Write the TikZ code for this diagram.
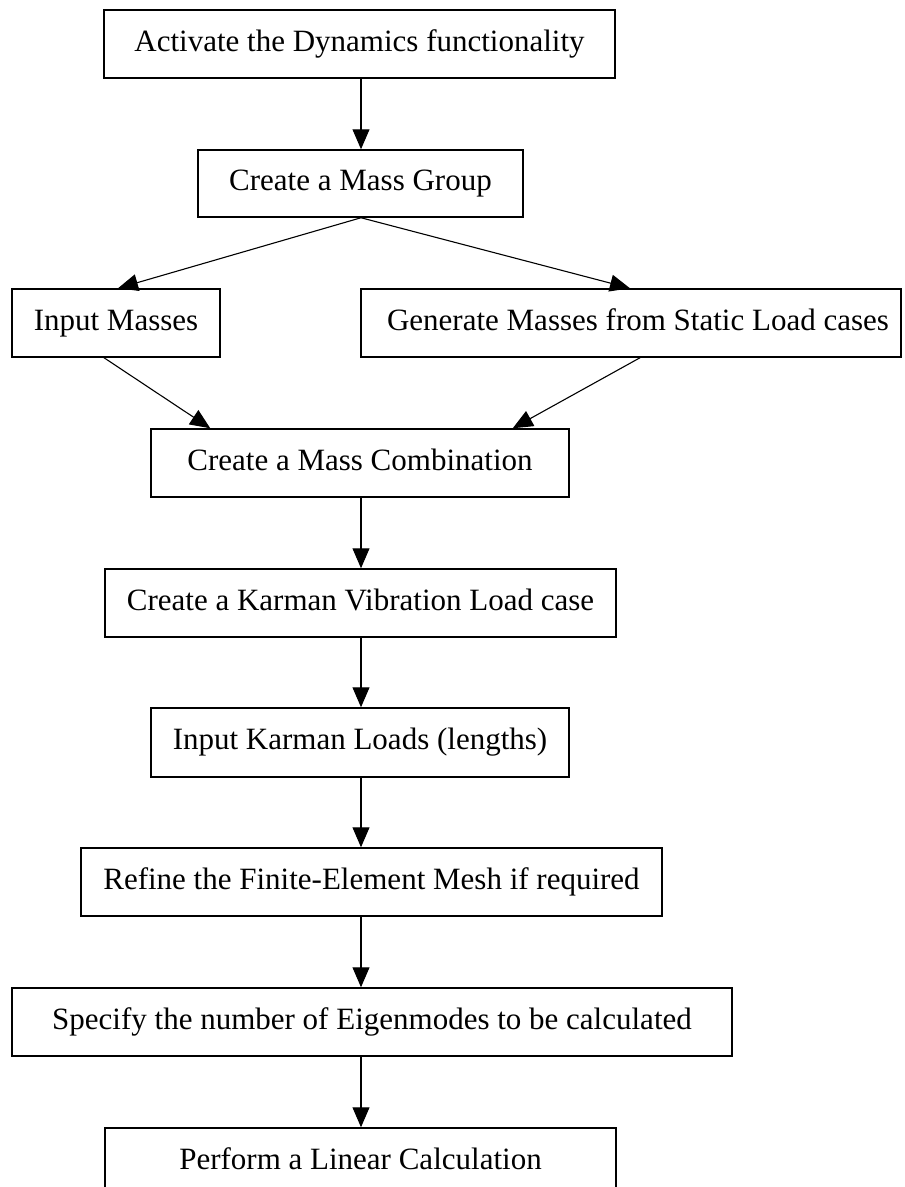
\documentclass[tikz,border=0pt]{standalone}
\usepackage{fontspec}
\setmainfont{Liberation Serif}
\usetikzlibrary{arrows.meta}
\begin{document}
\begin{tikzpicture}[x=1pt,y=-1pt,
  stepbox/.style={draw=black, line width=1.5pt, inner sep=0pt, align=center,
    font=\fontsize{31}{37}\selectfont, text height=21.7pt, text depth=6.8pt},
  arr/.style={line width=1.1pt, -{Triangle[length=20pt,width=17pt]}},
  con/.style={line width=1.1pt}]
\useasboundingbox (0,0) rectangle (905,1187);
\node[stepbox, minimum width=511pt, minimum height=68pt] (act) at (359.5,44) {Activate the Dynamics functionality};
\node[stepbox, minimum width=325pt, minimum height=67pt] (grp) at (360.5,183.5) {Create a Mass Group};
\node[stepbox, minimum width=208pt, minimum height=68pt] (inp) at (116,323) {Input Masses};
\node[stepbox, minimum width=540pt, minimum height=68pt] (gen) at (631,323) {\hspace*{14pt}Generate Masses from Static Load cases};
\node[stepbox, minimum width=418pt, minimum height=68pt] (comb) at (360,463) {Create a Mass Combination};
\node[stepbox, minimum width=511pt, minimum height=68pt] (karm) at (360.5,603) {Create a Karman Vibration Load case};
\node[stepbox, minimum width=418pt, minimum height=69pt] (kl) at (360,742.5) {Input Karman Loads (lengths)};
\node[stepbox, minimum width=581pt, minimum height=68pt] (ref) at (371.5,882) {Refine the Finite-Element Mesh if required};
\node[stepbox, minimum width=720pt, minimum height=68pt] (spec) at (372,1022) {Specify the number of Eigenmodes to be calculated};
\node[stepbox, minimum width=511pt, minimum height=68pt] (perf) at (360.5,1162) {Perform a Linear Calculation};

\coordinate (ax) at (361,0);
\draw[arr] (act.south -| ax) -- (grp.north -| ax);
\draw[arr] (grp.south -| ax) -- ([xshift=2pt]inp.north);
\draw[arr] (grp.south -| ax) -- ([xshift=-1pt]gen.north);
\draw[con,-{Triangle[length=20pt,width=17pt]}] ([xshift=-12pt]inp.south) -- ([xshift=60pt]comb.north west);
\draw[con,-{Triangle[length=20pt,width=17pt]}] ([xshift=9pt]gen.south) -- ([xshift=-57pt]comb.north east);
\draw[arr] (comb.south -| ax) -- (karm.north -| ax);
\draw[arr] (karm.south -| ax) -- (kl.north -| ax);
\draw[arr] (kl.south -| ax) -- (ref.north -| ax);
\draw[arr] (ref.south -| ax) -- (spec.north -| ax);
\draw[arr] (spec.south -| ax) -- (perf.north -| ax);
\end{tikzpicture}
\end{document}
